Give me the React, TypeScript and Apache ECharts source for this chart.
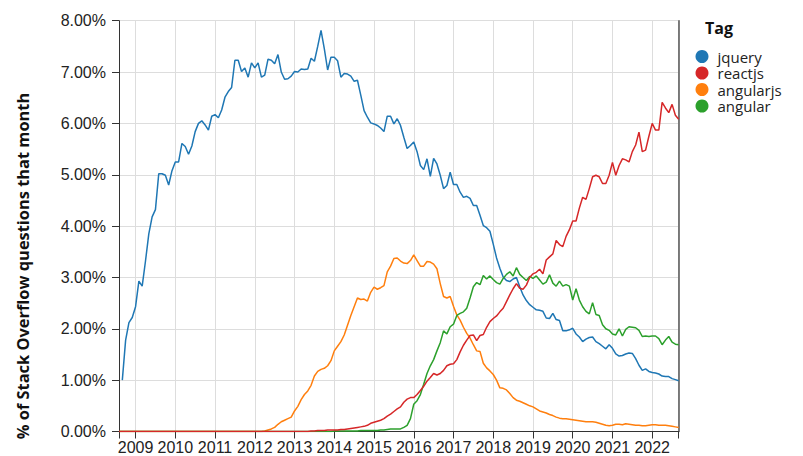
import React, { useEffect, useRef } from "react";
import * as echarts from "echarts";

// Months from 2008-08 to 2022-09 (170 months)
const START_YEAR = 2008;
const START_MONTH = 7; // August (0-based)
const MONTH_COUNT = 170;

const TAGS = ["jquery", "reactjs", "angularjs", "angular"];
const COLORS: Record<string, string> = {
  jquery: "#1f77b4",
  reactjs: "#d62728",
  angularjs: "#ff7f0e",
  angular: "#2ca02c",
};

const YEAR_TICKS = [2009, 2010, 2011, 2012, 2013, 2014, 2015, 2016, 2017, 2018, 2019, 2020, 2021, 2022];
const Y_TICKS = [0, 1, 2, 3, 4, 5, 6, 7, 8];

// % of Stack Overflow questions that month
const jquery: (number | null)[] = [
  /* 2008 Aug-Dec */ null, 1.0, 1.78, 2.12, 2.22,
  /* 2009 */ 2.43, 2.93, 2.83, 3.32, 3.85, 4.18, 4.32, 5.02, 5.02, 4.99, 4.8, 5.08,
  /* 2010 */ 5.25, 5.25, 5.61, 5.55, 5.4, 5.56, 5.84, 6.0, 6.05, 5.97, 5.87, 6.14,
  /* 2011 */ 6.17, 6.11, 6.26, 6.51, 6.62, 6.7, 7.23, 7.23, 7.01, 7.08, 6.9, 7.18,
  /* 2012 */ 7.08, 7.18, 6.9, 6.94, 7.25, 7.23, 7.16, 7.34, 7.0, 6.86, 6.87, 6.92,
  /* 2013 */ 7.01, 7.0, 7.06, 7.05, 7.06, 7.27, 7.21, 7.5, 7.81, 7.45, 7.04, 7.29,
  /* 2014 */ 7.29, 7.22, 6.9, 6.97, 6.96, 6.92, 6.82, 6.84, 6.55, 6.25, 6.12, 6.01,
  /* 2015 */ 5.99, 5.96, 5.91, 5.84, 6.14, 6.14, 5.99, 6.09, 5.96, 5.73, 5.51, 5.57,
  /* 2016 */ 5.64, 5.45, 5.18, 5.1, 5.31, 4.97, 5.32, 5.21, 4.99, 4.73, 4.79, 5.05,
  /* 2017 */ 4.81, 4.81, 4.66, 4.56, 4.58, 4.54, 4.4, 4.4, 4.21, 4.01, 3.97, 3.9,
  /* 2018 */ 3.65, 3.38, 3.18, 3.01, 2.94, 2.92, 2.97, 3.0, 2.82, 2.66, 2.55, 2.47,
  /* 2019 */ 2.42, 2.37, 2.36, 2.34, 2.21, 2.2, 2.3, 2.18, 2.16, 1.96, 1.96, 1.98,
  /* 2020 */ 2.01, 1.9, 1.84, 1.75, 1.8, 1.83, 1.84, 1.75, 1.71, 1.66, 1.61, 1.69,
  /* 2021 */ 1.62, 1.51, 1.47, 1.48, 1.51, 1.53, 1.52, 1.42, 1.29, 1.19, 1.22, 1.17,
  /* 2022 Jan-Sep */ 1.15, 1.14, 1.12, 1.08, 1.07, 1.07, 1.03, 1.01, 0.99,
];

const reactjs: number[] = [
  /* 2008 */ 0, 0, 0, 0, 0,
  /* 2009 */ 0, 0, 0, 0, 0, 0, 0, 0, 0, 0, 0, 0,
  /* 2010 */ 0, 0, 0, 0, 0, 0, 0, 0, 0, 0, 0, 0,
  /* 2011 */ 0, 0, 0, 0, 0, 0, 0, 0, 0, 0, 0, 0,
  /* 2012 */ 0, 0, 0, 0, 0, 0, 0, 0, 0, 0, 0, 0,
  /* 2013 */ 0, 0, 0, 0, 0, 0.01, 0.01, 0.02, 0.02, 0.02, 0.03, 0.03,
  /* 2014 */ 0.03, 0.03, 0.04, 0.04, 0.05, 0.06, 0.07, 0.08, 0.09, 0.1, 0.12, 0.16,
  /* 2015 */ 0.18, 0.2, 0.22, 0.25, 0.3, 0.34, 0.39, 0.44, 0.48, 0.57, 0.63, 0.66,
  /* 2016 */ 0.66, 0.72, 0.8, 0.88, 0.98, 1.05, 1.13, 1.1, 1.13, 1.19, 1.28, 1.31,
  /* 2017 */ 1.32, 1.4, 1.55, 1.68, 1.78, 1.87, 1.88, 1.77, 1.87, 1.89, 2.03, 2.14,
  /* 2018 */ 2.2, 2.25, 2.33, 2.4, 2.53, 2.66, 2.78, 2.88, 2.79, 2.77, 2.85, 3.0,
  /* 2019 */ 3.07, 3.1, 3.16, 3.07, 3.34, 3.4, 3.46, 3.72, 3.64, 3.6, 3.8, 3.93,
  /* 2020 */ 4.1, 4.1, 4.35, 4.56, 4.52, 4.73, 4.96, 4.99, 4.96, 4.83, 4.83, 4.99,
  /* 2021 */ 5.24, 4.99, 5.18, 5.31, 5.29, 5.25, 5.45, 5.58, 5.83, 5.45, 5.48, 5.75,
  /* 2022 */ 6.0, 5.87, 5.87, 6.41, 6.3, 6.21, 6.37, 6.16, 6.08,
];

const angularjs: number[] = [
  /* 2008 */ 0, 0, 0, 0, 0,
  /* 2009 */ 0, 0, 0, 0, 0, 0, 0, 0, 0, 0, 0, 0,
  /* 2010 */ 0, 0, 0, 0, 0, 0, 0, 0, 0, 0, 0, 0,
  /* 2011 */ 0, 0, 0, 0, 0, 0, 0, 0, 0, 0, 0, 0,
  /* 2012 */ 0, 0, 0, 0.01, 0.03, 0.05, 0.08, 0.14, 0.19, 0.22, 0.25, 0.28,
  /* 2013 */ 0.4, 0.49, 0.62, 0.72, 0.79, 0.9, 1.08, 1.17, 1.21, 1.23, 1.28, 1.38,
  /* 2014 */ 1.57, 1.66, 1.75, 1.88, 2.07, 2.26, 2.43, 2.6, 2.57, 2.58, 2.54, 2.71,
  /* 2015 */ 2.81, 2.77, 2.8, 2.84, 3.11, 3.22, 3.37, 3.38, 3.32, 3.28, 3.27, 3.33,
  /* 2016 */ 3.44, 3.33, 3.22, 3.22, 3.31, 3.3, 3.26, 3.17, 2.88, 2.63, 2.6, 2.63,
  /* 2017 */ 2.44, 2.27, 2.17, 2.03, 1.91, 1.82, 1.69, 1.57, 1.56, 1.33, 1.24, 1.18,
  /* 2018 */ 1.11, 1.0, 0.85, 0.84, 0.81, 0.74, 0.66, 0.61, 0.59, 0.56, 0.53, 0.5,
  /* 2019 */ 0.48, 0.44, 0.4, 0.38, 0.36, 0.33, 0.31, 0.28, 0.26, 0.25, 0.25, 0.24,
  /* 2020 */ 0.23, 0.22, 0.21, 0.2, 0.19, 0.19, 0.19, 0.18, 0.16, 0.14, 0.12, 0.11,
  /* 2021 */ 0.12, 0.14, 0.14, 0.13, 0.15, 0.14, 0.13, 0.12, 0.12, 0.11, 0.11, 0.12,
  /* 2022 */ 0.13, 0.13, 0.12, 0.12, 0.12, 0.11, 0.1, 0.09, 0.08,
];

const angular: number[] = [
  /* 2008 */ 0, 0, 0, 0, 0,
  /* 2009 */ 0, 0, 0, 0, 0, 0, 0, 0, 0, 0, 0, 0,
  /* 2010 */ 0, 0, 0, 0, 0, 0, 0, 0, 0, 0, 0, 0,
  /* 2011 */ 0, 0, 0, 0, 0, 0, 0, 0, 0, 0, 0, 0,
  /* 2012 */ 0, 0, 0, 0, 0, 0, 0, 0, 0, 0, 0, 0,
  /* 2013 */ 0, 0, 0, 0, 0, 0, 0, 0, 0, 0, 0, 0,
  /* 2014 */ 0.01, 0.01, 0.01, 0.01, 0.01, 0.01, 0.01, 0.01, 0.02, 0.02, 0.02, 0.02,
  /* 2015 */ 0.02, 0.02, 0.03, 0.03, 0.04, 0.05, 0.05, 0.05, 0.05, 0.08, 0.12, 0.25,
  /* 2016 */ 0.53, 0.6, 0.72, 0.92, 1.13, 1.28, 1.4, 1.57, 1.73, 1.96, 1.9, 2.04,
  /* 2017 */ 2.09, 2.26, 2.3, 2.33, 2.4, 2.6, 2.82, 2.9, 2.86, 3.04, 2.97, 3.03,
  /* 2018 */ 2.96, 2.9, 2.87, 2.98, 3.06, 3.11, 3.03, 3.19, 3.06, 3.0, 2.94, 3.02,
  /* 2019 */ 2.98, 3.03, 2.95, 2.87, 2.91, 3.05, 2.89, 2.83, 2.93, 2.83, 2.86, 2.83,
  /* 2020 */ 2.56, 2.78, 2.56, 2.43, 2.34, 2.29, 2.51, 2.28, 2.26, 2.08, 2.0, 1.97,
  /* 2021 */ 1.9, 1.88, 2.0, 1.86, 1.99, 2.04, 2.03, 2.02, 1.97, 1.85, 1.86, 1.85,
  /* 2022 */ 1.86, 1.86, 1.81, 1.69, 1.78, 1.85, 1.74, 1.7, 1.69,
];

const SERIES_DATA: Record<string, (number | null)[]> = { jquery, reactjs, angularjs, angular };
// draw order: red on top near zero
const DRAW_ORDER = ["jquery", "angularjs", "angular", "reactjs"];

// month positions as fractional years
const months: number[] = Array.from({ length: MONTH_COUNT }, (_, i) => START_YEAR + (START_MONTH + i) / 12);

const TICK_FONT = '"Liberation Sans", Arial, sans-serif';
const UI_FONT = '"Open Sans", "Noto Sans", sans-serif';

export default function App() {
  const ref = useRef<HTMLDivElement>(null);
  useEffect(() => {
    if (!ref.current) return;
    const chart = echarts.init(ref.current, undefined, { renderer: "svg" });
    const xMin = months[0];
    const xMax = months[months.length - 1];
    const option: any = {
      animation: false,
      backgroundColor: "#ffffff",
      grid: { left: 119, right: 124.3, top: 20.7, bottom: 24.5, containLabel: false },
      xAxis: {
        type: "value",
        min: xMin,
        max: xMax,
        axisLine: { show: true, onZero: false, lineStyle: { color: "#333", width: 1 } },
        axisTick: { show: true, length: 7, lineStyle: { color: "#333" }, customValues: [xMin, ...YEAR_TICKS, xMax] },
        axisLabel: {
          customValues: YEAR_TICKS,
          formatter: (v: number) => String(Math.round(v)),
          fontSize: 16,
          color: "#222",
          fontFamily: TICK_FONT,
          margin: 8,
          hideOverlap: false,
        },
        splitLine: { show: true, lineStyle: { color: "#ddd", width: 1 } },
      },
      yAxis: [
        {
          type: "value",
          min: Y_TICKS[0],
          max: Y_TICKS[Y_TICKS.length - 1],
          interval: 1,
          axisLine: { show: true, lineStyle: { color: "#333", width: 1 } },
          axisTick: { show: true, length: 7, lineStyle: { color: "#333" } },
          axisLabel: {
            formatter: (v: number) => v.toFixed(2) + "%",
            fontSize: 16,
            color: "#222",
            fontFamily: TICK_FONT,
            margin: 13,
          },
          splitLine: { show: true, lineStyle: { color: "#ddd", width: 1 } },
        },
        {
          type: "value",
          position: "right",
          min: Y_TICKS[0],
          max: Y_TICKS[Y_TICKS.length - 1],
          interval: 1,
          axisLine: { show: true, lineStyle: { color: "#555", width: 1.5 } },
          axisTick: { show: false },
          axisLabel: { show: false },
          splitLine: { show: false },
        },
      ],
      legend: {
        orient: "vertical",
        left: 695.5,
        top: 49,
        padding: 0,
        icon: "circle",
        itemWidth: 21,
        itemHeight: 13,
        itemGap: 1.5,
        data: TAGS,
        textStyle: { fontSize: 15, lineHeight: 15, color: "#222", fontFamily: UI_FONT },
      },
      graphic: [
        {
          type: "text",
          x: 705,
          y: 28,
          style: {
            text: "Tag",
            font: `bold 16px ${UI_FONT}`,
            fill: "#111",
            verticalAlign: "middle",
            align: "left",
          },
        },
        {
          type: "text",
          x: 22,
          y: 266,
          rotation: Math.PI / 2,
          style: {
            text: "% of Stack Overflow questions that month",
            font: `bold 16.4px ${UI_FONT}`,
            fill: "#111",
            verticalAlign: "middle",
            align: "center",
          },
        },
      ],
      series: DRAW_ORDER.map((tag) => ({
        name: tag,
        type: "line",
        showSymbol: false,
        symbol: "none",
        color: COLORS[tag],
        lineStyle: { width: 1.5, color: COLORS[tag] },
        data: months.map((t, i) => [t, SERIES_DATA[tag][i]]),
        z: 2,
      })),
    };
    chart.setOption(option);
    return () => chart.dispose();
  }, []);
  return (
    <div
      ref={ref}
      style={{ position: "absolute", left: 0, top: 0, width: 803, height: 456 }}
    />
  );
}
